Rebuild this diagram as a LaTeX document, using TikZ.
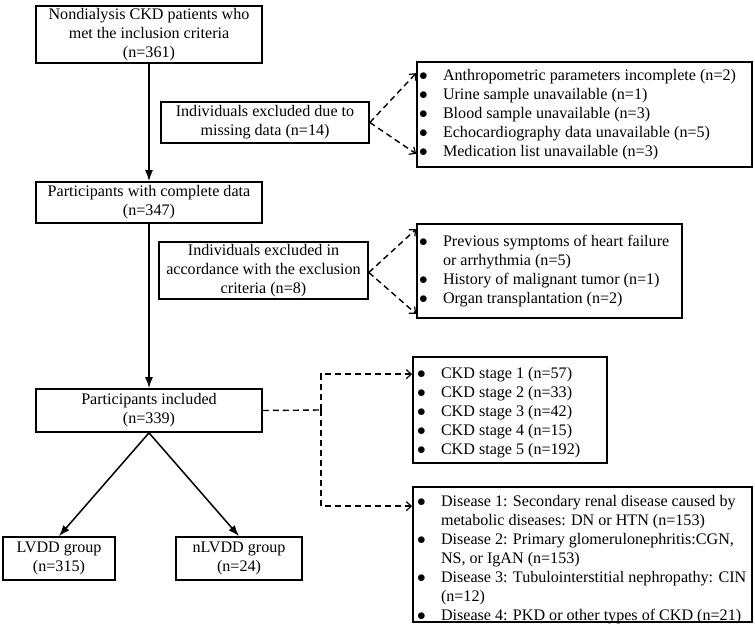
\documentclass[tikz,border=0pt]{standalone}
\usepackage{fontspec}
\setmainfont{Liberation Serif}
\usetikzlibrary{arrows.meta,calc}
\newcommand{\mylist}[4]{\makebox[#1][l]{\hspace{#2}\raisebox{#3}[\height][\depth]{\begin{tabular}{@{}p{24pt}@{}l@{}}#4\end{tabular}}}}
\newcommand{\bl}{$\bullet$}
\tikzset{
  every node/.append style={font=\fontsize{16.1}{19}\selectfont},
  mainbox/.style={draw, line width=1.7pt, align=center, inner sep=0pt},
  listbox/.style={draw, line width=1.7pt, inner sep=0pt},
  solidarrow/.style={line width=1.5pt, -{Latex[length=11pt,width=8pt]}},
  dashline/.style={line width=1.4pt, dash pattern=on 6pt off 4pt},
  dasharrow/.style={dashline, -{Straight Barb[length=5pt,width=9pt,line width=1.2pt]}}
}
\begin{document}
\begin{tikzpicture}[x=1pt,y=-1pt]
\useasboundingbox (0,0) rectangle (755,636);

% main column
\node[mainbox, minimum width=226pt, minimum height=57pt] (A) at (149,34.5)
  {Nondialysis CKD patients who\\met the inclusion criteria\\(n=361)};
\node[mainbox, minimum width=208pt, minimum height=41pt] (B) at (265,122.5)
  {Individuals excluded due to\\missing data (n=14)};
\node[mainbox, minimum width=226pt, minimum height=41pt] (C) at (149,202.5)
  {Participants with complete data\\(n=347)};
\node[mainbox, minimum width=209pt, minimum height=57pt] (D) at (263.5,270.5)
  {Individuals excluded in\\accordance with the exclusion\\criteria (n=8)};
\node[mainbox, minimum width=226pt, minimum height=43pt] (E) at (149,410.5)
  {Participants included\\(n=339)};
\node[mainbox, minimum width=112pt, minimum height=43pt] (F) at (59,558.5)
  {LVDD group\\(n=315)};
\node[mainbox, minimum width=126pt, minimum height=43pt] (G) at (239,558.5)
  {nLVDD group\\(n=24)};

% list boxes
\node[listbox, minimum width=335pt, minimum height=105pt] (L1) at (584.5,114.5)
  {\mylist{335pt}{2pt}{0pt}{%
   \bl & Anthropometric parameters incomplete (n=2)\\
   \bl & Urine sample unavailable (n=1)\\
   \bl & Blood sample unavailable (n=3)\\
   \bl & Echocardiography data unavailable (n=5)\\
   \bl & Medication list unavailable (n=3)}};
\node[listbox, minimum width=265pt, minimum height=94pt] (L2) at (549.5,271)
  {\mylist{265pt}{2pt}{0pt}{%
   \bl & Previous symptoms of heart failure\\
       & or arrhythmia (n=5)\\
   \bl & History of malignant tumor (n=1)\\
   \bl & Organ transplantation (n=2)}};
\node[listbox, minimum width=194pt, minimum height=106pt] (L3) at (510,410)
  {\mylist{194pt}{4pt}{-3pt}{%
   \bl & CKD stage 1 (n=57)\\
   \bl & CKD stage 2 (n=33)\\
   \bl & CKD stage 3 (n=42)\\
   \bl & CKD stage 4 (n=15)\\
   \bl & CKD stage 5 (n=192)}};
\node[listbox, minimum width=339pt, minimum height=135pt] (L4) at (582.5,554.5)
  {\mylist{339pt}{4pt}{-5pt}{%
   \bl & Disease 1: Secondary renal disease caused by\\
       & metabolic diseases: DN or HTN (n=153)\\
   \bl & Disease 2: Primary glomerulonephritis:CGN,\\
       & NS, or IgAN (n=153)\\
   \bl & Disease 3: Tubulointerstitial nephropathy: CIN\\
       & (n=12)\\
   \bl & Disease 4: PKD or other types of CKD (n=21)}};

% solid connectors
\draw[solidarrow] (A.south) -- (C.north);
\draw[solidarrow] (C.south) -- (E.north);
\draw[solidarrow] (E.south) -- (F.north);
\draw[solidarrow] (E.south) -- (G.north);

% dashed connectors
\draw[dasharrow] (B.east) -- ([yshift=-12pt]L1.north west);
\draw[dasharrow] (B.east) -- ([yshift=14pt]L1.south west);
\draw[dasharrow] ([yshift=-2pt]D.east) -- ([yshift=-6pt]L2.north west);
\draw[dasharrow] ([yshift=-2pt]D.east) -- ([yshift=5pt]L2.south west);

\coordinate (J) at (321,410);
\draw[dashline] (E.east) -- (J);
\draw[dasharrow] (J) |- ([yshift=-18pt]L3.north west);
\draw[dasharrow] (J) |- ([yshift=-20pt]L4.north west);
\end{tikzpicture}
\end{document}
